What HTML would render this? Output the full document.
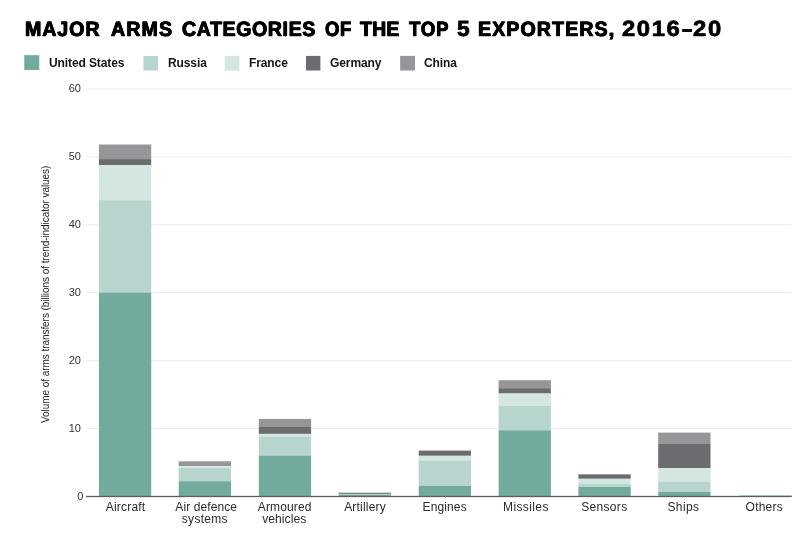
<!DOCTYPE html>
<html><head><meta charset="utf-8"><title>Major arms categories</title>
<style>
html,body{margin:0;padding:0;background:#fff;}
body{width:800px;height:542px;position:relative;overflow:hidden;font-family:"Liberation Sans",sans-serif;color:#222;}
.t{position:absolute;white-space:nowrap;}
#title{position:absolute;left:0;top:0;margin:0;font-size:20.7px;font-weight:bold;color:#000;text-rendering:geometricPrecision;}
#title span{position:absolute;top:18px;white-space:nowrap;transform-origin:0 18.25px;-webkit-text-stroke:0.7px #000;text-shadow:0.4px 0 0 #000,-0.4px 0 0 #000;}
.ll{top:56px;font-size:12px;font-weight:bold;line-height:15px;color:#151515;letter-spacing:-0.1px;}
.yt{font-size:11px;color:#333;line-height:12px;width:30px;text-align:right;left:51px;}
.xl{font-size:12px;color:#2a2a2a;line-height:12px;}
#yl{left:0;top:0;font-size:10px;letter-spacing:-0.055px;color:#222;transform-origin:0 0;transform:translate(40px,423px) rotate(-90deg);line-height:12px;}
</style></head><body>
<svg width="800" height="542" viewBox="0 0 800 542" style="position:absolute;left:0;top:0">
<rect x="86.1" y="427.90" width="705.7" height="1" fill="#ebebeb"/>
<rect x="86.1" y="360.00" width="705.7" height="1" fill="#ebebeb"/>
<rect x="86.1" y="292.10" width="705.7" height="1" fill="#ebebeb"/>
<rect x="86.1" y="224.20" width="705.7" height="1" fill="#ebebeb"/>
<rect x="86.1" y="156.30" width="705.7" height="1" fill="#ebebeb"/>
<rect x="86.1" y="88.40" width="705.7" height="1" fill="#ebebeb"/>
<rect x="98.9" y="144.50" width="52.3" height="14.60" fill="#96969a"/>
<rect x="98.9" y="159.10" width="52.3" height="6.00" fill="#6b6c70"/>
<rect x="98.9" y="165.10" width="52.3" height="35.10" fill="#d3e6e1"/>
<rect x="98.9" y="200.20" width="52.3" height="92.40" fill="#b7d5ce"/>
<rect x="98.9" y="292.60" width="52.3" height="203.70" fill="#72ab9d"/>
<rect x="178.7" y="461.30" width="52.3" height="4.70" fill="#96969a"/>
<rect x="178.7" y="466.00" width="52.3" height="1.80" fill="#d3e6e1"/>
<rect x="178.7" y="467.80" width="52.3" height="13.40" fill="#b7d5ce"/>
<rect x="178.7" y="481.20" width="52.3" height="15.10" fill="#72ab9d"/>
<rect x="258.8" y="418.90" width="52.3" height="7.50" fill="#96969a"/>
<rect x="258.8" y="426.40" width="52.3" height="7.50" fill="#6b6c70"/>
<rect x="258.8" y="433.90" width="52.3" height="2.60" fill="#d3e6e1"/>
<rect x="258.8" y="436.50" width="52.3" height="19.10" fill="#b7d5ce"/>
<rect x="258.8" y="455.60" width="52.3" height="40.70" fill="#72ab9d"/>
<rect x="338.7" y="492.70" width="52.3" height="1.20" fill="#6b6c70"/>
<rect x="338.7" y="493.90" width="52.3" height="0.80" fill="#b7d5ce"/>
<rect x="338.7" y="494.70" width="52.3" height="1.60" fill="#72ab9d"/>
<rect x="418.7" y="450.60" width="52.3" height="5.20" fill="#6b6c70"/>
<rect x="418.7" y="455.80" width="52.3" height="4.70" fill="#d3e6e1"/>
<rect x="418.7" y="460.50" width="52.3" height="25.40" fill="#b7d5ce"/>
<rect x="418.7" y="485.90" width="52.3" height="10.40" fill="#72ab9d"/>
<rect x="498.6" y="380.20" width="52.3" height="8.00" fill="#96969a"/>
<rect x="498.6" y="388.20" width="52.3" height="5.30" fill="#6b6c70"/>
<rect x="498.6" y="393.50" width="52.3" height="12.50" fill="#d3e6e1"/>
<rect x="498.6" y="406.00" width="52.3" height="24.30" fill="#b7d5ce"/>
<rect x="498.6" y="430.30" width="52.3" height="66.00" fill="#72ab9d"/>
<rect x="578.4" y="474.00" width="52.3" height="0.60" fill="#96969a"/>
<rect x="578.4" y="474.60" width="52.3" height="4.20" fill="#6b6c70"/>
<rect x="578.4" y="478.80" width="52.3" height="5.10" fill="#d3e6e1"/>
<rect x="578.4" y="483.90" width="52.3" height="3.00" fill="#b7d5ce"/>
<rect x="578.4" y="486.90" width="52.3" height="9.40" fill="#72ab9d"/>
<rect x="658.2" y="432.60" width="52.3" height="11.40" fill="#96969a"/>
<rect x="658.2" y="444.00" width="52.3" height="24.00" fill="#6b6c70"/>
<rect x="658.2" y="468.00" width="52.3" height="13.50" fill="#d3e6e1"/>
<rect x="658.2" y="481.50" width="52.3" height="10.50" fill="#b7d5ce"/>
<rect x="658.2" y="492.00" width="52.3" height="4.30" fill="#72ab9d"/>
<rect x="739.3" y="495.50" width="52.3" height="0.80" fill="#72ab9d"/>
<rect x="85.9" y="495.85" width="705.9" height="1.3" fill="#5e5e5e"/>
<rect x="24.25" y="55.2" width="15.0" height="14.8" fill="#72ab9d"/>
<rect x="143.4" y="55.9" width="14.6" height="14.6" fill="#b7d5ce"/>
<rect x="224.75" y="55.9" width="14.65" height="14.7" fill="#d3e6e1"/>
<rect x="306.0" y="55.9" width="14.4" height="14.6" fill="#6b6c70"/>
<rect x="400.15" y="55.9" width="14.85" height="14.6" fill="#96969a"/>
</svg>
<h1 id="title"><span style="left:25.01px;letter-spacing:1.038px;transform:scale(0.945,1)">MAJOR</span> <span style="left:110.57px;letter-spacing:1.256px;transform:scale(0.945,1)">ARMS</span> <span style="left:182.25px;letter-spacing:0.648px;transform:scale(0.945,1)">CATEGORIES</span> <span style="left:325.0px;letter-spacing:0.479px;transform:scale(0.9,1)">OF</span> <span style="left:360.36px;letter-spacing:0.164px;transform:scale(0.945,1)">THE</span> <span style="left:408.54px;letter-spacing:0.861px;transform:scale(0.9,1)">TOP</span> <span style="left:457.26px;letter-spacing:0px;transform:scale(1.1,1.06);text-shadow:none">5</span> <span style="left:478.11px;letter-spacing:1.193px;transform:scale(0.945,1)">EXPORTERS</span><span style="left:608.6px;letter-spacing:0px;transform:scale(1,1)">,</span> <span style="left:622.04px;letter-spacing:1.381px;transform:scale(1.15,1.06);text-shadow:none">2016</span><span style="left:681.55px;letter-spacing:0px;transform:scale(0.888,1)">–</span><span style="left:693.34px;letter-spacing:1.536px;transform:scale(1.15,1.06);text-shadow:none">20</span></h1>
<div class="t ll" style="left:49px">United States</div>
<div class="t ll" style="left:168px">Russia</div>
<div class="t ll" style="left:249px">France</div>
<div class="t ll" style="left:330px">Germany</div>
<div class="t ll" style="left:424px">China</div>
<div class="t yt" style="top:489.8px;left:53.4px">0</div>
<div class="t yt" style="top:421.9px">10</div>
<div class="t yt" style="top:354.0px">20</div>
<div class="t yt" style="top:286.1px">30</div>
<div class="t yt" style="top:218.2px">40</div>
<div class="t yt" style="top:150.3px">50</div>
<div class="t yt" style="top:82.4px">60</div>
<div class="t xl" style="left:105.76px;top:501.4px;letter-spacing:0.2px">Aircraft</div>
<div class="t xl" style="left:175.36px;top:501.4px;letter-spacing:0.094px">Air defence</div>
<div class="t xl" style="left:181.83px;top:513.4px;letter-spacing:0.283px">systems</div>
<div class="t xl" style="left:257.76px;top:501.4px;letter-spacing:0.142px">Armoured</div>
<div class="t xl" style="left:262.17px;top:513.4px;letter-spacing:0.103px">vehicles</div>
<div class="t xl" style="left:344.16px;top:501.4px;letter-spacing:0.206px">Artillery</div>
<div class="t xl" style="left:422.6px;top:501.4px;letter-spacing:0.114px">Engines</div>
<div class="t xl" style="left:503.0px;top:501.4px;letter-spacing:0.396px">Missiles</div>
<div class="t xl" style="left:581.21px;top:501.4px;letter-spacing:0.319px">Sensors</div>
<div class="t xl" style="left:667.41px;top:501.4px;letter-spacing:0.404px">Ships</div>
<div class="t xl" style="left:745.6px;top:501.4px;letter-spacing:0.225px">Others</div>
<div class="t" id="yl">Volume of arms transfers (billions of trend-indicator values)</div>
</body></html>
